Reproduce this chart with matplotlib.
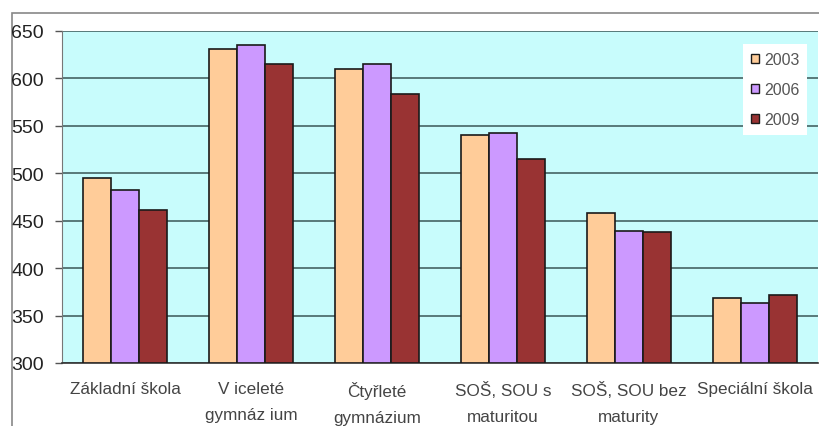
import matplotlib
matplotlib.use("Agg")
import matplotlib.pyplot as plt
from matplotlib.patches import Rectangle
import numpy as np

plt.rcParams['font.family'] = ['Liberation Sans', 'DejaVu Sans']

categories = ["Základní škola", "V iceleté\ngymnáz ium", "Čtyřleté\ngymnázium",
              "SOŠ, SOU s\nmaturitou", "SOŠ, SOU bez\nmaturity", "Speciální škola"]
series_names = ["2003", "2006", "2009"]
values_2003 = [495, 631, 610, 540, 458, 368]
values_2006 = [482, 635, 615, 542, 439, 363]
values_2009 = [461, 615, 584, 515, 438, 372]
y_ticks = [300, 350, 400, 450, 500, 550, 600, 650]

colors = ["#FFCC99", "#CC99FF", "#993333"]

W, H = 819, 427
fig = plt.figure(figsize=(W / 100, H / 100), dpi=100)
fig.patch.set_facecolor("white")

# plot area in pixel terms
left, top, right, bottom = 62, 32, 818, 364
ax = fig.add_axes([left / W, 1 - bottom / H, (right - left) / W, (bottom - top) / H])
ax.set_facecolor("#C8FCFC")

x = np.arange(len(categories))
bw = 0.222
for i, (vals, name) in enumerate(zip([values_2003, values_2006, values_2009], series_names)):
    ax.bar(x + (i - 1) * bw, np.array(vals) - 300, bottom=300, width=bw,
           color=colors[i], edgecolor="#1a1a1a", linewidth=1.2, label=name, zorder=3)

ax.set_xlim(-0.5, len(categories) - 0.5)
ax.set_ylim(300, 650)
ax.set_yticks(y_ticks)
ax.yaxis.grid(True, color="#4f6f6f", linewidth=1.3, zorder=1)
ax.set_axisbelow(True)

ax.set_xticks(x)
ax.set_xticklabels(categories, fontsize=12.3, color="#444444", linespacing=1.95)
ax.tick_params(axis="x", length=0, pad=13)
ax.tick_params(axis="y", length=5, width=1, color="#555555", pad=8,
               labelsize=14, labelcolor="#222222")

for s in ["top", "right"]:
    ax.spines[s].set_visible(False)
ax.spines["left"].set_color("#777777")
ax.spines["bottom"].set_color("#333333")
ax.spines["bottom"].set_linewidth(1.2)

leg = ax.legend(loc="upper left", bbox_to_anchor=((743 - left) / (right - left), (bottom - 45) / (bottom - top)),
                borderaxespad=0, fontsize=11.5, frameon=True, fancybox=False,
                handlelength=0.5, handleheight=0.5, handletextpad=0.3,
                labelspacing=0.95, borderpad=0.5, labelcolor="#555555")
leg.get_frame().set_facecolor("white")
leg.get_frame().set_edgecolor("none")
leg.get_frame().set_alpha(1)
leg.set_zorder(5)
for p in leg.get_patches():
    p.set_linewidth(1.0)

# outer chart border
fig.add_artist(Rectangle((12 / W, -0.1), 1.2, 1 - 14 / H + 0.1, transform=fig.transFigure,
                         fill=False, edgecolor="#888888", linewidth=1.2, zorder=0))

fig.savefig("out.png", dpi=100)
